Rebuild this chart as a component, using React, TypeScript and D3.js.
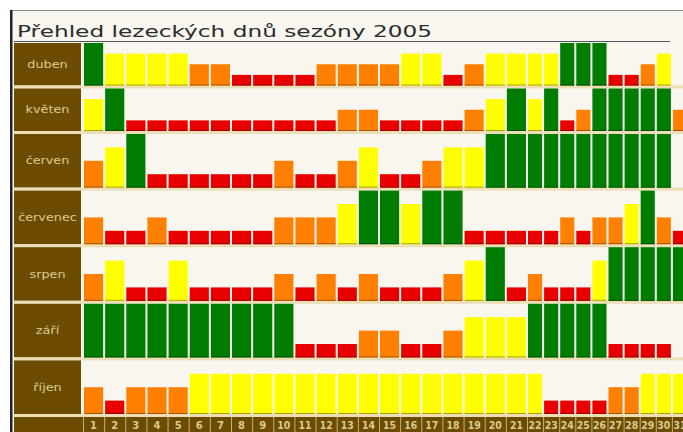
import React from 'react';
import * as d3 from 'd3';

// climbing-day rating per day: 0 = no data, 1 = red, 2 = orange, 3 = yellow, 4 = green
const months = ['duben', 'květen', 'červen', 'červenec', 'srpen', 'září', 'říjen'];

const duben = [4, 3, 3, 3, 3, 2, 2, 1, 1, 1, 1, 2, 2, 2, 2, 3, 3, 1, 2, 3, 3, 3, 3, 4, 4, 4, 1, 1, 2, 3];
const kveten = [3, 4, 1, 1, 1, 1, 1, 1, 1, 1, 1, 1, 2, 2, 1, 1, 1, 1, 2, 3, 4, 3, 4, 1, 2, 4, 4, 4, 4, 4, 2];
const cerven = [2, 3, 4, 1, 1, 1, 1, 1, 1, 2, 1, 1, 2, 3, 1, 1, 2, 3, 3, 4, 4, 4, 4, 4, 4, 4, 4, 4, 4, 4];
const cervenec = [2, 1, 1, 2, 1, 1, 1, 1, 1, 2, 2, 2, 3, 4, 4, 3, 4, 4, 1, 1, 1, 1, 1, 2, 1, 2, 2, 3, 4, 2, 1];
const srpen = [2, 3, 1, 1, 3, 1, 1, 1, 1, 2, 1, 2, 1, 2, 1, 1, 1, 2, 3, 4, 1, 2, 1, 1, 1, 3, 4, 4, 4, 4, 4];
const zari = [4, 4, 4, 4, 4, 4, 4, 4, 4, 4, 1, 1, 1, 2, 2, 1, 1, 2, 3, 3, 3, 4, 4, 4, 4, 4, 1, 1, 1, 1];
const rijen = [2, 1, 2, 2, 2, 3, 3, 3, 3, 3, 3, 3, 3, 3, 3, 3, 3, 3, 3, 3, 3, 3, 1, 1, 1, 1, 2, 2, 3, 3, 3];

const series = [duben, kveten, cerven, cervenec, srpen, zari, rijen];
const dayLabels = d3.range(1, 32).map(String);

const levelColors = ['none', '#e80000', '#ff8000', '#ffff00', '#007d00'];

const W = 683;
const H = 432;
const brown = '#6b4c02';
const labelInk = '#dccb90';
const sepColor = '#ecdfb6';
const bg = '#f8f6ee';

export default function App() {
  // the source screenshot was resized unevenly, so both axes are piecewise
  const x = d3.scaleLinear().domain([0, 21, 31]).range([83, 527, 688]);
  const y = d3.scaleLinear().domain([0, 2, 7]).range([43, 134, 417]);
  const lvl = d3.scaleLinear().domain([0, 4]).range([0, 1]);
  const rowGap = 3;
  const colGap = 2;
  const labelX0 = 14;
  const labelX1 = 81;

  return (
    <svg
      width={W}
      height={H}
      style={{ position: 'absolute', left: 0, top: 0, background: '#fff' }}
      fontFamily="'DejaVu Sans', Verdana, sans-serif"
    >
      <rect x={11} y={10} width={W - 11} height={H - 10} fill={bg} />
      <line x1={11} x2={W} y1={10.5} y2={10.5} stroke="#8a8a8a" />
      <rect x={10} y={10} width={2.5} height={H - 10} fill="#222" />

      <text x={17} y={37} fontSize={15} fill="#2b2b2b" textLength={415} lengthAdjust="spacingAndGlyphs">
        Přehled lezeckých dnů sezóny 2005
      </text>
      <line x1={labelX0} x2={670} y1={41.5} y2={41.5} stroke="#555" />

      {months.map((m, r) => {
        const top = y(r);
        const h = y(r + 1) - top - rowGap;
        const bottom = top + h;
        return (
          <g key={m}>
            <rect x={labelX0} y={top} width={labelX1 - labelX0} height={h} fill={brown} />
            <text
              transform={`translate(${(labelX0 + labelX1) / 2},${top + h / 2 + 3.5}) scale(1.28,1)`}
              textAnchor="middle"
              fontSize={10}
              fill={labelInk}
            >
              {m}
            </text>
            <rect x={labelX0} y={bottom} width={W - labelX0} height={rowGap} fill={sepColor} />
            {series[r].map((v, i) => {
              if (!v) return null;
              const x0 = x(i) + colGap / 2;
              const bw = x(i + 1) - x(i) - colGap;
              const bh = lvl(v) * h;
              const c = levelColors[v];
              return (
                <g key={i}>
                  <rect x={x0} y={bottom - bh} width={bw} height={bh} fill={c} />
                  <rect x={x0} y={bottom - 1} width={bw} height={1} fill={d3.color(c)!.darker(1.2).toString()} />
                </g>
              );
            })}
          </g>
        );
      })}

      <rect x={labelX0} y={y(7)} width={W - labelX0} height={H - y(7)} fill={brown} />
      {dayLabels.map((d, i) => {
        const cx = (x(i) + x(i + 1)) / 2;
        const cw = x(i + 1) - x(i);
        return (
          <g key={d}>
            <line x1={x(i) + 0.5} x2={x(i) + 0.5} y1={y(7)} y2={H} stroke="#c8b07a" />
            <text
              x={cx}
              y={y(7) + 12}
              textAnchor="middle"
              fontSize={10}
              fontWeight="bold"
              fill={labelInk}
              textLength={d.length > 1 ? Math.min(cw - 3, 13) : undefined}
              lengthAdjust="spacingAndGlyphs"
            >
              {d}
            </text>
          </g>
        );
      })}
    </svg>
  );
}
